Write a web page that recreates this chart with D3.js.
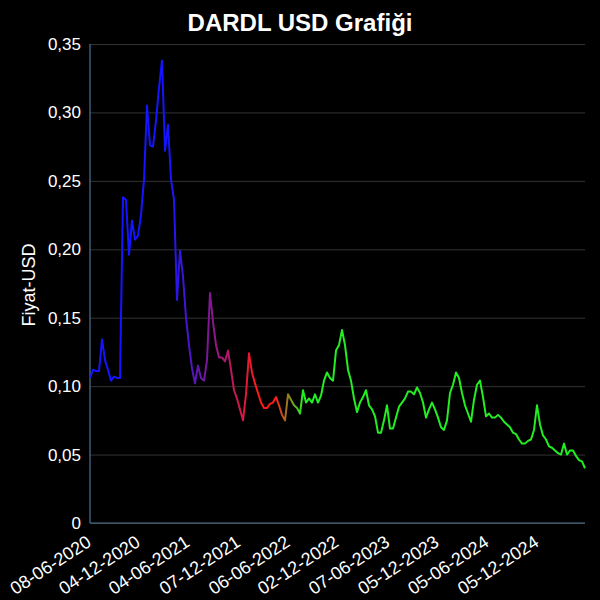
<!DOCTYPE html>
<html>
<head>
<meta charset="utf-8">
<script src="https://cdn.jsdelivr.net/npm/d3@7"></script>
<style>
html,body{margin:0;padding:0;background:#000;}
svg{display:block;}
text{font-family:"Liberation Sans",Arial,sans-serif;fill:#fff;}
</style>
</head>
<body>
<svg id="chart" width="600" height="600"></svg>
<script>
const title = "DARDL USD Grafiği";
const yLabel = "Fiyat-USD";
const startDate = "2020-06-08";
const stepDays = 11;
const prices = [
0.106,0.112,0.111,0.111,0.134,0.119,0.112,0.104,0.107,0.106,0.106,
0.238,0.236,0.196,0.221,0.207,0.210,0.225,0.251,0.305,0.276,0.275,0.294,0.318,0.338,0.272,0.291,0.251,0.236,0.163,0.199,0.180,0.150,0.130,0.113,0.102,
0.115,0.106,0.104,0.119,0.168,0.147,0.130,0.121,0.121,0.118,0.126,0.112,0.097,0.091,0.083,0.075,0.094,0.124,0.110,0.102,0.095,0.088,0.084,0.084,0.087,0.088,0.092,0.086,0.079,0.075,0.094,0.090,0.086,0.084,0.080,0.097,0.088,
0.091,0.088,0.094,0.088,0.093,0.104,0.110,0.106,0.104,0.126,0.130,0.141,0.130,0.112,0.104,0.091,0.081,0.088,0.092,0.097,0.086,0.083,0.078,0.066,0.066,0.075,0.086,0.069,0.069,0.077,0.085,0.088,0.091,0.096,0.096,0.094,0.099,0.095,0.088,0.077,0.083,0.088,0.083,0.077,0.070,0.068,0.075,
0.095,0.101,0.110,0.106,0.095,0.086,0.080,0.074,0.090,0.101,0.104,0.092,0.078,0.080,0.077,0.077,0.079,0.077,0.074,0.072,0.070,0.066,0.065,0.061,0.058,0.058,0.060,0.061,0.068,0.086,0.072,0.064,0.061,0.056,0.055,0.053,0.051,0.050,0.058,0.050,0.053,0.053,0.049,0.046,0.045,0.040
];
const xTickLabels = ["08-06-2020","04-12-2020","04-06-2021","07-12-2021","06-06-2022","02-12-2022","07-06-2023","05-12-2023","05-06-2024","05-12-2024"];
const yTicks = [0,0.05,0.10,0.15,0.20,0.25,0.30,0.35];
const colorStopDates = ["2020-06-08","2021-03-20","2022-02-14","2022-04-17","2022-07-29","2025-05-28"];
const colorStopColors = ["#1414ff","#1414ff","#ff1a1a","#ff1a1a","#22ee22","#22ee22"];

const parse = d3.utcParse("%Y-%m-%d");
const parseTick = d3.utcParse("%d-%m-%Y");
const t0 = parse(startDate);
const data = prices.map((v,i)=>({date:d3.utcDay.offset(t0, i*stepDays), value:v}));

const svg = d3.select("#chart");
const L=90, R=585, T=44, B=523;

const x = d3.scaleUtc().domain([data[0].date, data[data.length-1].date]).range([L,R]);
const y = d3.scaleLinear().domain([0,0.35]).range([B,T]);

svg.append("rect").attr("width",600).attr("height",600).attr("fill","#000");

// title
svg.append("text").attr("x",300).attr("y",31).attr("text-anchor","middle")
  .style("font-size","24px").style("font-weight","bold").text(title);

// grid + y ticks
const fmt = v => v===0 ? "0" : d3.format(".2f")(v).replace(".",",");
const yAxis = d3.axisLeft(y).tickValues(yTicks).tickFormat(fmt).tickSize(-(R-L)).tickPadding(9);
const gy = svg.append("g").attr("transform",`translate(${L},0)`).call(yAxis);
gy.select(".domain").remove();
gy.selectAll(".tick line").attr("stroke","#333").attr("stroke-width",1);
gy.selectAll(".tick text").style("font-size","17px").attr("fill","#fff")
  .style("font-family","'Liberation Sans',Arial,sans-serif");

// x axis
const xTicks = xTickLabels.map(parseTick);
const xAxis = d3.axisBottom(x).tickValues(xTicks).tickFormat(d3.utcFormat("%d-%m-%Y")).tickSize(0);
const gx = svg.append("g").attr("transform",`translate(0,${B})`).call(xAxis);
gx.select(".domain").remove();
gx.selectAll(".tick text")
  .style("font-size","18px").attr("fill","#fff")
  .style("font-family","'Liberation Sans',Arial,sans-serif")
  .attr("text-anchor","end")
  .attr("y",0).attr("dy",0)
  .attr("transform","translate(2,22) rotate(-33)");

// axis lines
svg.append("line").attr("x1",L).attr("x2",L).attr("y1",T).attr("y2",B).attr("stroke","#4e7596").attr("stroke-width",1.2);
svg.append("line").attr("x1",L).attr("x2",R).attr("y1",B).attr("y2",B).attr("stroke","#4e7596").attr("stroke-width",1.2);

// y label
svg.append("text").attr("transform","translate(35,285) rotate(-90)").attr("text-anchor","middle")
  .style("font-size","18px").text(yLabel);

// gradient
const defs = svg.append("defs");
const grad = defs.append("linearGradient").attr("id","lineGrad")
  .attr("gradientUnits","userSpaceOnUse").attr("x1",L).attr("x2",R).attr("y1",0).attr("y2",0);
colorStopDates.forEach((d,i)=>{
  grad.append("stop").attr("offset",((x(parse(d))-L)/(R-L)).toFixed(4)).attr("stop-color",colorStopColors[i]);
});

const line = d3.line().x(d=>x(d.date)).y(d=>y(d.value));
svg.append("path").datum(data).attr("d",line).attr("fill","none")
  .attr("stroke","url(#lineGrad)").attr("stroke-width",2).attr("stroke-linejoin","round");
</script>
</body>
</html>
